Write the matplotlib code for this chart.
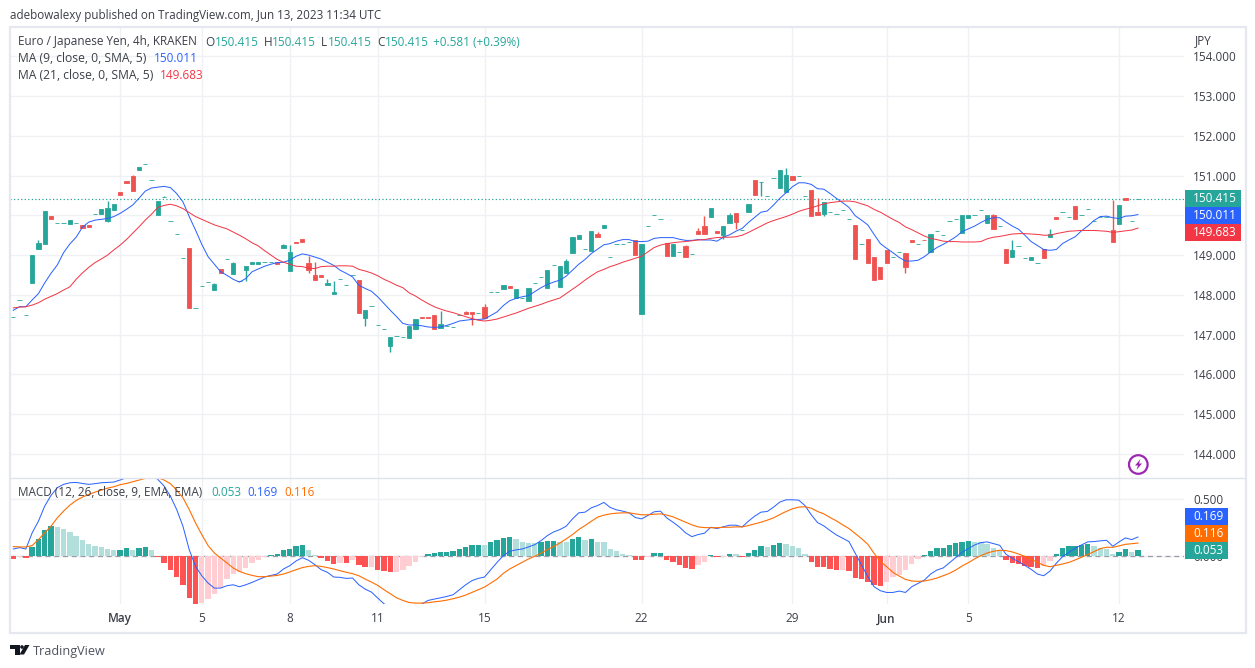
import numpy as np
import matplotlib
matplotlib.use('Agg')
import matplotlib.pyplot as plt
from matplotlib.patches import Rectangle, Circle, Polygon

# candle data
opens = [147.45,147.86,147.48,148.29,149.15,149.28,149.98,149.80,149.80,149.78,
 149.82,149.76,149.76,150.03,150.03,149.86,150.13,150.59,150.86,150.99,
 151.14,151.29,150.88,150.01,150.45,149.87,149.52,148.92,149.18,147.68,
 148.21,148.31,148.12,148.65,148.89,148.52,148.34,148.62,148.78,148.78,
 148.82,148.83,148.82,149.18,148.60,149.33,149.40,148.80,148.50,148.50,
 148.24,148.02,148.41,148.24,148.51,148.37,147.41,147.73,147.23,147.13,
 146.71,146.96,146.95,146.91,147.13,147.44,147.44,147.49,147.16,147.21,
 147.18,147.48,147.56,147.56,147.55,147.69,148.06,148.06,148.14,148.22,
 147.92,147.92,147.84,148.29,148.44,148.17,148.76,148.19,148.55,149.05,
 149.40,149.15,149.10,149.53,149.68,148.94,149.27,149.29,149.32,149.38,
 147.51,149.72,150.00,149.90,149.30,148.97,149.07,149.23,149.02,149.61,
 149.73,149.96,149.61,149.50,149.81,150.06,149.62,150.08,150.89,150.83,
 150.48,150.93,150.69,150.59,150.99,150.98,150.48,150.64,150.08,150.03,
 150.08,150.03,150.13,149.90,149.76,149.27,149.40,148.95,148.70,149.13,
 148.94,149.09,149.05,149.38,149.29,149.39,149.08,149.61,149.50,149.87,
 149.91,149.55,149.93,150.00,150.13,149.81,150.01,149.72,149.15,148.95,
 149.24,148.92,148.87,148.79,149.15,149.45,149.96,150.08,149.95,150.24,
 150.00,150.15,149.85,149.95,149.96,149.63,149.78,150.44,149.85,150.415]
closes = [147.45,147.86,147.48,149.00,149.30,150.11,149.91,149.80,149.80,149.88,
 149.82,149.68,149.71,150.03,150.16,150.18,150.29,150.51,150.82,150.61,
 151.22,151.29,150.88,150.36,150.45,149.87,149.52,148.92,147.66,147.68,
 148.21,148.31,148.27,148.55,148.89,148.80,148.34,148.72,148.82,148.82,
 148.82,148.83,148.78,149.25,149.08,149.31,149.33,148.62,148.37,148.45,
 148.29,148.07,148.41,148.24,148.51,147.54,147.61,147.73,147.23,147.13,
 146.93,146.96,146.95,147.21,147.39,147.42,147.42,147.13,147.26,147.21,
 147.18,147.48,147.51,147.51,147.55,147.41,148.06,148.06,148.24,148.17,
 148.14,147.92,148.17,148.29,148.44,148.62,148.76,148.72,148.85,149.45,
 149.50,149.15,149.61,149.45,149.76,148.94,149.27,149.29,149.32,149.00,
 149.28,149.72,150.00,149.90,148.97,149.28,149.07,148.95,149.02,149.53,
 149.53,150.18,149.55,149.73,150.01,149.83,149.62,150.29,150.51,150.83,
 150.48,150.93,151.14,151.02,150.89,150.98,150.48,149.98,150.01,150.34,
 150.08,150.03,150.13,149.90,148.90,149.27,148.80,148.37,148.39,148.80,
 148.94,149.09,148.70,149.33,149.29,149.37,149.53,149.61,149.50,149.87,
 149.91,150.01,150.01,150.00,150.13,150.01,149.66,149.72,148.80,149.13,
 149.24,148.92,148.95,148.79,148.92,149.53,149.91,150.08,149.95,149.91,
 150.00,150.15,149.85,149.95,149.96,149.33,150.26,150.39,149.85,150.415]
wick_high = {4:149.38,15:150.36,19:151.01,24:150.49,32:148.29,35:148.82,43:149.28,44:149.25,
 47:148.97,48:148.82,50:148.39,51:148.34,68:147.59,72:147.58,75:147.76,88:148.90,93:149.58,
 107:149.25,109:149.68,110:149.98,114:150.06,123:151.19,128:150.44,156:150.03,159:149.38,
 165:149.66,175:150.39}
wick_low = {15:149.84,37:148.34,47:148.55,56:147.21,60:146.55,73:147.23,113:149.40,115:149.66,
 119:150.49,129:149.98,142:148.55}

ma9 = [147.61,147.70,147.70,147.87,148.03,148.30,148.54,148.75,149.06,149.28,
 149.45,149.70,149.83,149.88,149.90,149.92,149.97,150.05,150.15,150.26,
 150.43,150.61,150.69,150.71,150.73,150.70,150.55,150.34,149.97,149.63,
 149.27,148.96,148.77,148.58,148.49,148.39,148.32,148.41,148.58,148.65,
 148.72,148.77,148.81,148.82,148.87,148.97,149.03,149.00,148.95,148.90,
 148.82,148.74,148.62,148.54,148.45,148.24,148.16,148.09,147.95,147.78,
 147.61,147.45,147.28,147.24,147.24,147.22,147.19,147.18,147.19,147.23,
 147.28,147.34,147.36,147.38,147.38,147.39,147.48,147.57,147.73,147.85,
 147.91,147.95,147.98,148.08,148.18,148.26,148.32,148.37,148.47,148.62,
 148.77,148.89,149.04,149.15,149.26,149.29,149.35,149.39,149.39,149.34,
 149.34,149.35,149.42,149.44,149.44,149.44,149.40,149.37,149.37,149.39,
 149.38,149.38,149.35,149.45,149.51,149.60,149.67,149.82,149.95,150.08,
 150.11,150.26,150.43,150.57,150.72,150.82,150.82,150.78,150.67,150.66,
 150.55,150.43,150.32,150.20,149.99,149.88,149.76,149.52,149.29,149.17,
 149.06,148.94,148.85,148.85,148.87,148.96,149.08,149.19,149.27,149.36,
 149.46,149.59,149.66,149.73,149.82,149.90,149.94,149.94,149.83,149.73,
 149.65,149.50,149.34,149.24,149.14,149.12,149.14,149.29,149.38,149.46,
 149.61,149.73,149.87,149.97,149.98,149.94,149.92,149.98,149.99,150.02]
ma21 = [147.67,147.69,147.70,147.74,147.80,147.89,147.96,148.03,148.12,148.20,
 148.39,148.55,148.69,148.81,148.90,149.00,149.13,149.25,149.39,149.55,
 149.71,149.88,150.03,150.20,150.25,150.28,150.24,150.17,150.07,149.97,
 149.90,149.83,149.76,149.71,149.66,149.58,149.50,149.41,149.31,149.23,
 149.11,149.00,148.89,148.82,148.77,148.72,148.71,148.67,148.66,148.71,
 148.72,148.72,148.73,148.73,148.72,148.64,148.60,148.55,148.48,148.39,
 148.32,148.24,148.18,148.05,147.97,147.87,147.78,147.70,147.64,147.59,
 147.55,147.50,147.45,147.40,147.36,147.34,147.36,147.39,147.44,147.49,
 147.54,147.60,147.66,147.71,147.76,147.82,147.87,147.92,148.03,148.14,
 148.25,148.37,148.48,148.58,148.64,148.71,148.76,148.82,148.87,148.92,
 148.97,149.08,149.19,149.25,149.29,149.31,149.33,149.34,149.36,149.38,
 149.39,149.42,149.44,149.45,149.45,149.46,149.50,149.57,149.65,149.73,
 149.81,149.87,149.92,149.97,150.03,150.10,150.15,150.19,150.24,150.29,
 150.32,150.34,150.36,150.36,150.34,150.29,150.24,150.15,150.08,149.99,
 149.90,149.82,149.71,149.64,149.56,149.48,149.42,149.39,149.35,149.34,
 149.34,149.33,149.33,149.33,149.34,149.41,149.45,149.47,149.50,149.53,
 149.54,149.54,149.53,149.52,149.50,149.50,149.54,149.57,149.60,149.61,
 149.62,149.62,149.62,149.61,149.60,149.57,149.59,149.61,149.63,149.68]

hist = [-.02,-.005,-.015,.085,.155,.234,.269,.26,.243,.216,
 .181,.146,.111,.094,.085,.067,.056,.058,.076,.058,
 .076,.085,.058,-.01,-.055,-.117,-.178,-.249,-.363,-.415,
 -.406,-.371,-.327,-.278,-.196,-.152,-.135,-.099,-.056,-.029,
 -.003,.015,.023,.058,.067,.094,.102,.058,.015,-.012,
 -.038,-.064,-.056,-.058,-.029,-.073,-.091,-.09,-.117,-.126,
 -.135,-.134,-.117,-.082,-.047,-.01,.023,.032,.041,.042,
 .05,.067,.085,.102,.103,.102,.129,.146,.164,.165,
 .155,.129,.12,.119,.129,.13,.137,.129,.128,.155,
 .172,.146,.147,.129,.128,.067,.05,.023,.015,-.03,
 -.031,-.01,.032,.033,-.03,-.047,-.073,-.099,-.108,-.073,
 -.047,.015,-.004,-.003,.023,.022,-.006,.032,.058,.094,
 .085,.102,.12,.111,.094,.076,.023,-.047,-.091,-.095,
 -.111,-.12,-.118,-.129,-.19,-.2,-.225,-.25,-.26,-.225,
 -.181,-.16,-.12,-.067,-.023,.012,.047,.073,.074,.099,
 .117,.126,.135,.126,.125,.108,.073,.056,-.032,-.058,
 -.067,-.085,-.094,-.102,-.085,-.041,.02,.073,.091,.092,
 .099,.108,.091,.073,.064,.02,.038,.064,.038,.053]
macd_line = [.064,.076,.064,.205,.307,.439,.532,.6,.629,.643,
 .646,.637,.629,.635,.643,.646,.649,.667,.687,.70,
 .708,.716,.708,.673,.614,.526,.409,.263,.058,-.088,
 -.17,-.234,-.278,-.278,-.257,-.249,-.266,-.249,-.228,-.205,
 -.181,-.167,-.155,-.111,-.082,-.041,-.012,-.035,-.073,-.117,
 -.14,-.181,-.184,-.193,-.19,-.249,-.287,-.313,-.365,-.415,
 -.45,-.48,-.48,-.47,-.44,-.418,-.386,-.374,-.363,-.351,
 -.336,-.292,-.249,-.213,-.193,-.181,-.117,-.053,.006,.044,
 .056,.064,.082,.102,.137,.181,.213,.234,.263,.327,
 .38,.386,.424,.444,.471,.427,.406,.395,.38,.339,
 .327,.357,.389,.395,.336,.298,.257,.205,.172,.19,
 .202,.254,.243,.257,.272,.272,.257,.307,.351,.386,
 .392,.43,.474,.494,.494,.491,.444,.363,.295,.266,
 .225,.187,.158,.129,.026,-.076,-.178,-.266,-.301,-.316,
 -.316,-.304,-.316,-.266,-.237,-.208,-.155,-.12,-.102,-.056,
 -.009,.035,.067,.099,.12,.126,.111,.096,.018,-.018,
 -.047,-.079,-.114,-.155,-.17,-.129,-.061,-.003,.035,.07,
 .099,.126,.129,.135,.14,.088,.126,.161,.146,.169]
signal_line = [.085,.082,.082,.094,.146,.205,.263,.336,.395,.447,
 .488,.518,.541,.561,.579,.596,.608,.626,.637,.652,
 .667,.681,.687,.687,.667,.635,.579,.512,.409,.292,
 .19,.094,.029,-.015,-.058,-.102,-.132,-.152,-.167,-.178,
 -.178,-.173,-.167,-.155,-.137,-.117,-.099,-.088,-.082,-.088,
 -.099,-.111,-.126,-.14,-.152,-.17,-.199,-.225,-.254,-.292,
 -.327,-.363,-.386,-.404,-.409,-.409,-.406,-.398,-.392,-.383,
 -.371,-.357,-.339,-.316,-.292,-.269,-.234,-.199,-.149,-.111,
 -.082,-.053,-.023,0,.029,.058,.085,.117,.152,.19,
 .234,.269,.307,.342,.36,.371,.377,.38,.38,.371,
 .363,.363,.368,.371,.36,.345,.322,.298,.275,.257,
 .251,.25,.25,.254,.254,.257,.257,.269,.284,.298,
 .316,.336,.365,.392,.415,.43,.433,.421,.392,.371,
 .339,.31,.275,.243,.199,.155,.105,.026,-.044,-.091,
 -.14,-.173,-.202,-.216,-.219,-.216,-.205,-.19,-.17,-.149,
 -.12,-.085,-.056,-.023,.006,.029,.044,.053,.05,.038,
 .02,0,-.026,-.053,-.079,-.091,-.079,-.067,-.053,-.032,
 -.009,.015,.041,.067,.079,.079,.091,.105,.110,.116]

price_ticks = [144,145,146,147,148,149,150,151,152,153,154]
date_pos = [17,30,44,58,75,100,124,139,152,176]
date_labels = ['May','5','8','11','15','22','29','Jun','5','12']
last_price = 150.415

UP = '#26a69a'
DOWN = '#ef5350'
GRID = '#f0f1f5'
BORDER = '#e6e8ef'
TXT = '#3c3f48'
BLUE = '#2962ff'
RED = '#f23645'
ORANGE = '#ff6d00'
plt.rcParams['font.family'] = ['Open Sans', 'DejaVu Sans']
FS = 8.5

W, H = 1255, 668
fig = plt.figure(figsize=(W/100, H/100), dpi=100, facecolor='white')

def pane(left, top, right, bottom):
    return fig.add_axes([left/W, 1-bottom/H, (right-left)/W, (bottom-top)/H])

ax = pane(10, 27.5, 1184, 477.5)
mx = pane(10, 477.5, 1184, 604)
x = np.arange(len(opens))
xlim = ((10-13.3)/6.283, (1184-13.3)/6.283)

for a in (ax, mx):
    a.set_xlim(*xlim)
    a.yaxis.tick_right()
    for s in a.spines.values():
        s.set_visible(False)
    a.set_axisbelow(True)
    a.grid(True, color=GRID, lw=1)
    a.tick_params(length=0, labelcolor=TXT, labelsize=FS)
    a.set_xticks(date_pos)

# price pane
ax.set_ylim(143.40, 154.73)
ax.set_yticks(price_ticks)
ax.set_yticklabels(['%.3f' % p for p in price_ticks])
ax.tick_params(axis='y', pad=6.5)
ax.tick_params(axis='x', labelbottom=False)

colors = [UP if c >= o else DOWN for o, c in zip(opens, closes)]
bottoms = [min(o, c) for o, c in zip(opens, closes)]
heights = [abs(o-c) for o, c in zip(opens, closes)]
for i, hi in wick_high.items():
    ax.vlines(i, max(opens[i], closes[i]), hi, color=colors[i], lw=1, zorder=2)
for i, lo in wick_low.items():
    ax.vlines(i, lo, min(opens[i], closes[i]), color=colors[i], lw=1, zorder=2)
ax.bar(x, heights, bottom=bottoms, width=0.68, color=colors, edgecolor=colors, lw=0.6, zorder=3)
ax.plot(x, ma9, color=BLUE, lw=0.72, zorder=4)
ax.plot(x, ma21, color=RED, lw=0.72, zorder=4)
ax.axhline(last_price, color='#14a093', lw=0.85, ls=(0, (1, 2)), zorder=1)

# macd pane
mx.set_ylim(-0.417, 0.689)
mx.set_yticks([0, 0.5])
mx.set_yticklabels(['0.000', '0.500'])
mx.tick_params(axis='y', pad=6.5)
mx.set_xticks(date_pos)
mx.set_xticklabels(date_labels)
mx.tick_params(axis='x', pad=6)
for lab, txt in zip(mx.get_xticklabels(), date_labels):
    if txt in ('May', 'Jun'):
        lab.set_fontweight('semibold')
mx.axhline(0, color='#9a9ca5', lw=0.9, ls=(0, (4, 3)), zorder=1)
hist_colors = []
for i, v in enumerate(hist):
    prev = hist[i-1] if i else 0
    if v >= 0:
        hist_colors.append('#26a69a' if v > prev else '#b2dfdb')
    else:
        hist_colors.append('#ff5252' if v < prev else '#ffcdd2')
mx.bar(x, hist, width=0.85, color=hist_colors, zorder=2)
mx.plot(x, macd_line, color=BLUE, lw=0.72, zorder=3)
mx.plot(x, signal_line, color=ORANGE, lw=0.8, zorder=3)

# overlay in pixel coordinates for the chrome around the panes
ov = fig.add_axes([0, 0, 1, 1], facecolor='none')
ov.set_xlim(0, W)
ov.set_ylim(H, 0)
ov.axis('off')

ov.add_patch(Rectangle((9.5, 26.5), 1236, 606, fill=False, ec=BORDER, lw=1.6))
ov.plot([10, 1245], [477.5, 477.5], color='#e0e3eb', lw=1)

def label(px, py, s, color=TXT, **kw):
    ov.text(px, py, s, color=color, fontsize=kw.pop('fontsize', FS), va='center', ha=kw.pop('ha', 'left'), **kw)

label(10, 15, 'adebowalexy published on TradingView.com, Jun 13, 2023 11:34 UTC', fontsize=8.35)
label(18, 42, 'Euro / Japanese Yen, 4h, KRAKEN')
for px, s in [(205.5, 'O'), (263.5, 'H'), (320.5, 'L'), (377.5, 'C')]:
    label(px, 42, s)
for px, s in [(214.5, '150.415'), (272, '150.415'), (327.5, '150.415'), (384.5, '150.415'), (433, '+0.581 (+0.39%)')]:
    label(px, 42, s, color=UP)
label(18, 58.5, 'MA (9, close, 0, SMA, 5)', fontsize=8.7)
label(153.5, 58.5, '150.011', color=BLUE)
label(18, 75.5, 'MA (21, close, 0, SMA, 5)', fontsize=8.7)
label(159.7, 75.5, '149.683', color=RED)
label(17.5, 492.5, 'MACD (12, 26, close, 9, EMA, EMA)')
label(211, 492.5, '0.053', color=UP)
label(247, 492.5, '0.169', color=BLUE)
label(284, 492.5, '0.116', color=ORANGE)
label(1195, 40.5, 'JPY')

for top, bot, right, col, s in [(190, 207.3, 1241, UP, '150.415'), (207.3, 224, 1241, BLUE, '150.011'),
                                (224, 240.7, 1241, RED, '149.683'), (508.3, 525.3, 1228, BLUE, '0.169'),
                                (525.3, 542, 1228, ORANGE, '0.116'), (542, 558.7, 1228, UP, '0.053')]:
    ov.add_patch(Rectangle((1185, top), right-1185, bot-top, fc=col, ec='none', zorder=5))
    ov.text(1193, (top+bot)/2, s, color='white', fontsize=FS, va='center', ha='left', zorder=6, fontweight='medium')

# lightning icon
ov.add_patch(Circle((1138.3, 464.5), 9.3, fill=False, ec='#9c27b0', lw=1.6))
ov.add_patch(Polygon([(1140.5, 459), (1135, 465.5), (1138, 465.5), (1136.5, 470), (1142, 463.5), (1139, 463.5)],
                     fc='#9c27b0', ec='none'))

# logo
ov.add_patch(Polygon([(10, 645), (19.5, 645), (19.5, 654.5), (14.5, 654.5), (14.5, 648.5), (10, 648.5)], fc='#131722', ec='none'))
ov.add_patch(Circle((22, 647), 1.8, fc='#131722', ec='none'))
ov.add_patch(Polygon([(25, 645), (29.5, 645), (24, 654.5), (19.5, 654.5)], fc='#131722', ec='none'))
label(33, 651, 'TradingView', color='#50535e', fontsize=9.1)

fig.savefig('out.png', dpi=100, facecolor='white')
